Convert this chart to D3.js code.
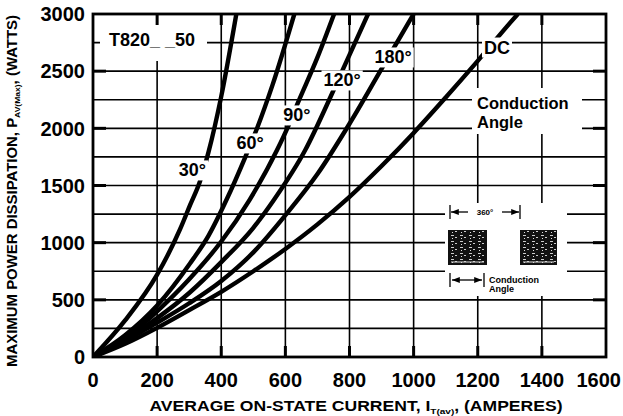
<!DOCTYPE html>
<html lang="en">
	<head>
		<meta charset="utf-8">
		<title>T820 power dissipation vs on-state current</title>
		<script type="text/javascript" src="https://cdn.jsdelivr.net/npm/d3@7"></script>
		<style type="text/css">
			body { margin: 0; background: #fff; }
			text { font-family: "Liberation Sans", Arial, sans-serif; font-weight: bold; fill: #000; }
		</style>
	</head>
	<body>
		<script type="text/javascript">

			//Width and height
			var w = 623;
			var h = 416;

			//tick labels
			var xTicks = [0, 200, 400, 600, 800, 1000, 1200, 1400, 1600];
			var yTicks = [0, 500, 1000, 1500, 2000, 2500, 3000];
			var yGrid = [250, 500, 750, 1000, 1250, 1500, 1750, 2000, 2250, 2500, 2750];

			//curves: current (A) and power (W)
			var angles = ["30°", "60°", "90°", "120°", "180°", "DC"];
			var amps30 = [0, 100, 200, 272, 303, 334, 360, 400, 447];
			var watts30 = [0, 320, 720, 1120, 1330, 1540, 1790, 2280, 3000];
			var amps60 = [0, 100, 200, 303, 360, 416, 475, 512, 560, 628];
			var watts60 = [0, 190, 450, 820, 1060, 1373, 1749, 2003, 2380, 3000];
			var amps90 = [0, 100, 200, 300, 400, 488, 574, 609, 637, 700, 752];
			var watts90 = [0, 160, 400, 680, 1010, 1373, 1810, 2020, 2210, 2620, 3000];
			var amps120 = [0, 100, 200, 300, 400, 500, 564, 662, 741, 777, 858];
			var watts120 = [0, 150, 340, 560, 830, 1130, 1373, 1810, 2276, 2500, 3000];
			var amps180 = [0, 100, 200, 300, 400, 500, 600, 700, 800, 900, 1000];
			var watts180 = [0, 140, 300, 470, 665, 915, 1240, 1600, 2040, 2520, 3000];
			var ampsDC = [0, 100, 200, 300, 400, 500, 600, 700, 800, 900, 1000, 1100, 1200, 1300, 1325];
			var wattsDC = [0, 115, 255, 410, 570, 750, 945, 1160, 1400, 1670, 1960, 2270, 2590, 2920, 3000];

			var series = [
				[amps30, watts30], [amps60, watts60], [amps90, watts90],
				[amps120, watts120], [amps180, watts180], [ampsDC, wattsDC]
			];

			//where the curve labels sit (data units)
			var labelAt = [[310, 1636], [490, 1872], [636, 2117], [777, 2423], [936, 2624], [1260, 2711]];

			var svg = d3.select("body")
						.append("svg")
						.attr("width", w)
						.attr("height", h);

			var x = d3.scaleLinear().domain([0, 1600]).range([93, 606]);
			var y = d3.scaleLinear().domain([0, 3000]).range([357, 14]);

			svg.append("clipPath").attr("id", "plot")
				.append("rect")
				.attr("x", x(0)).attr("y", y(3000))
				.attr("width", x(1600) - x(0)).attr("height", y(0) - y(3000));

			//grid
			var grid = svg.append("g").attr("stroke", "#000").attr("stroke-width", 1.6);
			grid.selectAll("line.v")
				.data(xTicks.slice(1, -1))
				.enter()
				.append("line")
				.attr("x1", function(d){ return x(d); })
				.attr("x2", function(d){ return x(d); })
				.attr("y1", y(0))
				.attr("y2", y(3000));
			grid.selectAll("line.h")
				.data(yGrid)
				.enter()
				.append("line")
				.attr("x1", x(0))
				.attr("x2", x(1600))
				.attr("y1", function(d){ return y(d); })
				.attr("y2", function(d){ return y(d); });

			//heavier inward ticks at the labelled values
			var ticks = svg.append("g").attr("stroke", "#000").attr("stroke-width", 3);
			yTicks.slice(1, -1).forEach(function(d){
				ticks.append("line").attr("x1", x(0)).attr("x2", x(0) + 13).attr("y1", y(d)).attr("y2", y(d));
				ticks.append("line").attr("x1", x(1600)).attr("x2", x(1600) - 13).attr("y1", y(d)).attr("y2", y(d));
			});
			xTicks.slice(1, -1).forEach(function(d){
				ticks.append("line").attr("x1", x(d)).attr("x2", x(d)).attr("y1", y(0)).attr("y2", y(0) - 11);
				ticks.append("line").attr("x1", x(d)).attr("x2", x(d)).attr("y1", y(3000)).attr("y2", y(3000) + 11);
			});

			//curves
			var line = d3.line()
						.x(function(d){ return x(d[0]); })
						.y(function(d){ return y(d[1]); })
						.curve(d3.curveMonotoneX);

			svg.append("g")
				.attr("clip-path", "url(#plot)")
				.selectAll("path")
				.data(series)
				.enter()
				.append("path")
				.attr("d", function(s){
					return line(s[0].map(function(a, i){ return [a, s[1][i]]; }));
				})
				.attr("fill", "none")
				.attr("stroke", "#000")
				.attr("stroke-width", 4.4);

			//labels with white boxes that break the lines behind them
			function boxed(g, pad){
				var b = g.node().getBBox();
				g.insert("rect", ":first-child")
					.attr("x", b.x - pad).attr("y", b.y - pad + 2)
					.attr("width", b.width + 2 * pad).attr("height", b.height + 2 * pad - 4)
					.attr("fill", "#fff");
			}

			angles.forEach(function(t, i){
				var g = svg.append("g");
				g.append("text")
					.attr("x", x(labelAt[i][0]))
					.attr("y", y(labelAt[i][1]))
					.attr("dy", "0.36em")
					.attr("text-anchor", "middle")
					.style("font-size", "18px")
					.text(t);
				boxed(g, 2);
			});

			var part = svg.append("g");
			part.append("rect").attr("x", 100).attr("y", 25).attr("width", 107).attr("height", 36).attr("fill", "#fff");
			part.append("text")
				.attr("x", 152).attr("y", 46)
				.attr("text-anchor", "middle")
				.style("font-size", "18px")
				.text("T820_ _50");

			var cond = svg.append("g");
			cond.append("rect").attr("x", 472).attr("y", 88).attr("width", 110).attr("height", 46).attr("fill", "#fff");
			cond.append("text").attr("x", 477).attr("y", 108.5).style("font-size", "16.5px").text("Conduction");
			cond.append("text").attr("x", 477).attr("y", 127.5).style("font-size", "16.5px").text("Angle");

			//little waveform inset
			var defs = svg.append("defs");
			var pat = defs.append("pattern").attr("id", "speck")
						.attr("width", 9).attr("height", 6).attr("patternUnits", "userSpaceOnUse");
			pat.append("rect").attr("width", 9).attr("height", 6).attr("fill", "#111");
			pat.append("rect").attr("x", 1).attr("y", 1).attr("width", 3).attr("height", 1).attr("fill", "#ccc");
			pat.append("rect").attr("x", 5).attr("y", 3).attr("width", 2).attr("height", 1).attr("fill", "#ccc");
			pat.append("rect").attr("x", 2).attr("y", 4).attr("width", 1).attr("height", 1).attr("fill", "#ddd");

			defs.append("marker").attr("id", "arr")
				.attr("viewBox", "0 0 10 10").attr("refX", 10).attr("refY", 5)
				.attr("markerWidth", 6).attr("markerHeight", 6).attr("orient", "auto-start-reverse")
				.append("path").attr("d", "M0,1L10,5L0,9z").attr("fill", "#000");

			var ins = svg.append("g");
			ins.append("rect").attr("x", 445).attr("y", 203).attr("width", 122).attr("height", 93).attr("fill", "#fff");
			ins.selectAll("rect.p")
				.data([[448, 487], [520, 557]])
				.enter()
				.append("rect")
				.attr("x", function(d){ return d[0]; })
				.attr("y", 230)
				.attr("width", function(d){ return d[1] - d[0]; })
				.attr("height", 35)
				.attr("fill", "url(#speck)");
			ins.selectAll("line.u")
				.data([[448, 487], [520, 557]])
				.enter()
				.append("line")
				.attr("x1", function(d){ return d[0] + 3; })
				.attr("x2", function(d){ return d[1] - 3; })
				.attr("y1", 262).attr("y2", 262)
				.attr("stroke", "#ddd").attr("stroke-width", 1);

			var dim = ins.append("g").attr("stroke", "#000").attr("stroke-width", 1.3);
			dim.append("line").attr("x1", 450).attr("x2", 450).attr("y1", 205).attr("y2", 219);
			dim.append("line").attr("x1", 520).attr("x2", 520).attr("y1", 205).attr("y2", 219);
			dim.append("line").attr("x1", 468).attr("x2", 451).attr("y1", 212).attr("y2", 212).attr("marker-end", "url(#arr)");
			dim.append("line").attr("x1", 502).attr("x2", 519).attr("y1", 212).attr("y2", 212).attr("marker-end", "url(#arr)");
			dim.append("line").attr("x1", 450).attr("x2", 450).attr("y1", 273).attr("y2", 287);
			dim.append("line").attr("x1", 484).attr("x2", 484).attr("y1", 273).attr("y2", 287);
			dim.append("line").attr("x1", 452).attr("x2", 482).attr("y1", 280).attr("y2", 280)
				.attr("marker-start", "url(#arr)").attr("marker-end", "url(#arr)");
			ins.append("text").attr("x", 485).attr("y", 215).attr("text-anchor", "middle")
				.style("font-size", "8px").text("360°");
			ins.append("text").attr("x", 489).attr("y", 283).style("font-size", "9px").text("Conduction");
			ins.append("text").attr("x", 489).attr("y", 292).style("font-size", "9px").text("Angle");

			//frame
			svg.append("rect")
				.attr("x", x(0)).attr("y", y(3000))
				.attr("width", x(1600) - x(0)).attr("height", y(0) - y(3000))
				.attr("fill", "none")
				.attr("stroke", "#000")
				.attr("stroke-width", 2.8);

			//tick labels
			svg.selectAll("text.xt")
				.data(xTicks)
				.enter()
				.append("text")
				.attr("x", function(d){ return d === 1600 ? 621 : x(d); })
				.attr("y", 387)
				.attr("text-anchor", function(d){ return d === 1600 ? "end" : "middle"; })
				.style("font-size", "20px")
				.text(function(d){ return d; });

			svg.selectAll("text.yt")
				.data(yTicks)
				.enter()
				.append("text")
				.attr("x", 85)
				.attr("y", function(d){ return y(d); })
				.attr("dy", "0.36em")
				.attr("text-anchor", "end")
				.style("font-size", "20px")
				.text(function(d){ return d; });

			//axis titles
			var xt = svg.append("text")
				.attr("x", 356).attr("y", 411)
				.attr("text-anchor", "middle")
				.attr("textLength", 413).attr("lengthAdjust", "spacingAndGlyphs")
				.style("font-size", "14px");
			xt.append("tspan").text("AVERAGE ON-STATE CURRENT, I");
			xt.append("tspan").attr("dy", 3).style("font-size", "8px").text("T(av)");
			xt.append("tspan").attr("dy", -3).text(", (AMPERES)");

			var yt = svg.append("text")
				.attr("transform", "translate(17,191) rotate(-90)")
				.attr("text-anchor", "middle")
				.attr("textLength", 352).attr("lengthAdjust", "spacingAndGlyphs")
				.style("font-size", "14px");
			yt.append("tspan").text("MAXIMUM POWER DISSIPATION, P");
			yt.append("tspan").attr("dy", 3).style("font-size", "8px").text("AV(Max)");
			yt.append("tspan").attr("dy", -3).text(", (WATTS)");

		</script>
	</body>
</html>
